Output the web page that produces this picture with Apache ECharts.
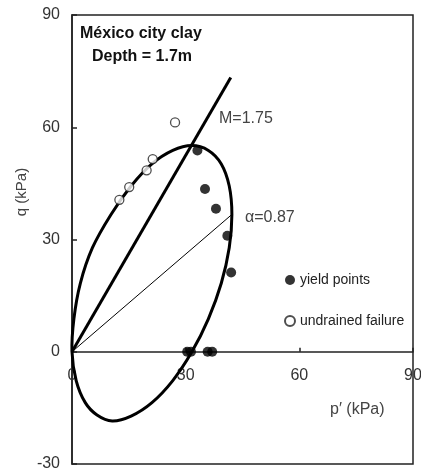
<!DOCTYPE html>
<html><head><meta charset="utf-8">
<script src="https://cdn.jsdelivr.net/npm/echarts@6/dist/echarts.min.js"></script>
<style>html,body{margin:0;padding:0;background:#fff}#c{width:421px;height:471px}</style>
</head><body><div id="c"></div>
<script>
// Data (p' kPa, q kPa)
const yieldPoints = [[33.1,53.8],[35.1,43.5],[38.0,38.2],[41.0,31.0],[42.0,21.2],[30.4,0],[31.4,0],[35.8,0],[37.0,0]];
const undrainedFailure = [[27.2,61.3],[21.3,51.5],[19.7,48.5],[15.1,44.0],[12.5,40.6]];
const lineM = [[0,0],[41.9,73.3]];
const lineAlpha = [[0,0],[42.1,36.6]];
// points traced along the yield ellipse (closed loop)
const ellipse = [[42.2,36.7],[41.5,44.3],[39.4,50.2],[36.0,53.8],[31.6,55.1],[26.6,53.8],[21.1,50.2],[15.6,44.3],[10.3,36.7],[5.4,27.8],[2.2,18.3],[0.5,8.8],[0,0],[1.1,-7.7],[3.5,-13.6],[6.6,-16.9],[10.6,-18.5],[15.6,-17.2],[21.1,-13.6],[26.6,-7.7],[31.6,-0.1],[36.0,8.8],[39.4,18.3],[41.5,27.8]];
const xTicks = [0,30,60,90];
const yTicks = [-30,0,30,60,90];

const chart = echarts.init(document.getElementById('c'));
const font = 'Liberation Sans, Arial, sans-serif';
chart.setOption({
  animation:false,
  grid:{left:72,top:15,width:341,height:449,show:true,borderColor:'#222',borderWidth:1.5,backgroundColor:'transparent',containLabel:false,outerBoundsMode:'none'},
  xAxis:{type:'value',min:xTicks[0],max:xTicks[xTicks.length-1],interval:30,
    axisLine:{onZero:true,lineStyle:{color:'#222',width:1.5}},
    axisTick:{inside:true,length:4,lineStyle:{color:'#222',width:1.5}},
    axisLabel:{color:'#333',fontSize:16,fontFamily:font,margin:-96},
    splitLine:{show:false}},
  yAxis:{type:'value',min:yTicks[0],max:yTicks[yTicks.length-1],interval:30,
    axisLine:{show:true,onZero:false,lineStyle:{color:'#222',width:1.5}},
    axisTick:{inside:true,length:5,lineStyle:{color:'#222',width:1.5}},
    axisLabel:{color:'#333',fontSize:16,fontFamily:font,margin:12},
    splitLine:{show:false}},
  legend:{orient:'vertical',left:279,top:268,itemWidth:10,itemHeight:10,itemGap:27,
    data:['yield points','undrained failure'],
    textStyle:{color:'#222',fontSize:14,fontFamily:font}},
  graphic:[
    {type:'text',left:80,top:26,style:{text:'México city clay',font:'bold 16px '+font,fill:'#111'}},
    {type:'text',left:92,top:49,style:{text:'Depth = 1.7m',font:'bold 16px '+font,fill:'#111'}},
    {type:'text',left:219,top:111,style:{text:'M=1.75',font:'16px '+font,fill:'#444'}},
    {type:'text',left:245,top:210,style:{text:'α=0.87',font:'16px '+font,fill:'#444'}},
    {type:'text',left:330,top:402,style:{text:'p′ (kPa)',font:'16px '+font,fill:'#444'}},
    {type:'text',x:22,y:192,rotation:Math.PI/2,style:{text:'q (kPa)',font:'15px '+font,fill:'#444',align:'center',verticalAlign:'middle'}}
  ],
  series:[
    {type:'custom',data:[0],silent:true,z:2,
      renderItem:function(params,api){
        const pts = ellipse.map(function(d){return api.coord(d);});
        return {type:'polygon',shape:{points:pts,smooth:0.35},style:{fill:'none',stroke:'#000',lineWidth:3}};
      }},
    {type:'line',data:lineM,showSymbol:false,silent:true,lineStyle:{color:'#000',width:3},z:2},
    {type:'line',data:lineAlpha,showSymbol:false,silent:true,lineStyle:{color:'#000',width:1},z:2},
    {name:'yield points',type:'scatter',data:yieldPoints,symbol:'circle',symbolSize:10,itemStyle:{color:'#000'},z:3},
    {name:'undrained failure',type:'scatter',data:undrainedFailure,symbol:'circle',symbolSize:9,itemStyle:{color:'#fff',borderColor:'#222',borderWidth:1.3},z:3}
  ]
});
</script></body></html>
